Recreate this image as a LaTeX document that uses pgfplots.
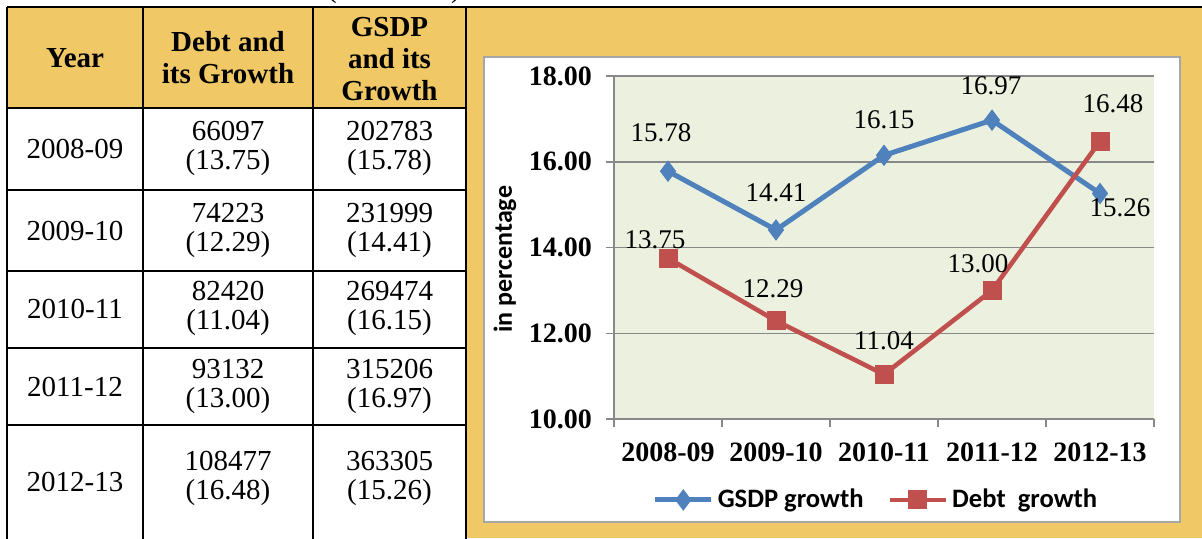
\documentclass[border=0pt]{standalone}
\usepackage{fontspec}
\setmainfont{Liberation Serif}
\newfontfamily\calibri{Carlito}
\usepackage{pgfplots}
\usepackage{pgfplotstable}
\pgfplotsset{compat=1.18}
\definecolor{gold}{HTML}{F0C966}
\definecolor{cGSDP}{HTML}{4F81BD}
\definecolor{cDebt}{HTML}{C0504D}
\definecolor{plotbg}{HTML}{EBF1DE}
\definecolor{gridgray}{HTML}{888888}

% growth rates (per cent) with label offsets in pt
\pgfplotstableread{
idx gsdp gdx gdy debt ddx ddy
0 15.78 -3.5 19 13.75 -6.5 9
1 14.41 0 18.5 12.29 -1.5 16
2 16.15 0 18 11.04 0 17
3 16.97 -0.5 17 13.00 -7 13.5
4 15.26 10 -7 16.48 6.5 18.5
}\growth

\begin{document}
\begin{tikzpicture}[x=1pt,y=1pt]
\useasboundingbox (0,0) rectangle (601,269);
% background panels
\fill[gold] (233,0) rectangle (601,265.5);
\fill[gold] (3.5,215) rectangle (233,265.5);
\fill[white] (242,8) rectangle (590,240.5);
\draw[gray!70, line width=1pt] (242,8) rectangle (590,240.5);
% cut-off caption brackets above the table
\node[anchor=base, inner sep=0pt, font=\fontsize{14.5}{16}\selectfont] at (166,270.5) {(};
\node[anchor=base, inner sep=0pt, font=\fontsize{14.5}{16}\selectfont] at (228,270.5) {)};
% table grid
\begin{scope}[line width=1.25pt]
\draw (3.5,265.5) -- (601,265.5);
\foreach \yy in {215,174,133.5,95,56.5} \draw (3.5,\yy) -- (233,\yy);
\foreach \xx in {3.5,71.5,156.5,233} \draw (\xx,-2) -- (\xx,265.5);
\end{scope}
% table text
\begin{scope}[every node/.style={align=center, inner sep=0pt, font=\fontsize{14.5}{16}\selectfont}]
\node[font=\fontsize{14.5}{16}\selectfont\bfseries] at (37.5,240) {Year};
\node[font=\fontsize{14.5}{16}\selectfont\bfseries] at (114,240) {Debt and\\its Growth};
\node[font=\fontsize{14.5}{16}\selectfont\bfseries] at (194.75,239.5) {GSDP\\and its\\Growth};
\node at (37.5,194.5) {2008-09};
\node at (37.5,153.75) {2009-10};
\node at (37.5,114.5) {2010-11};
\node at (37.5,75.5) {2011-12};
\node at (37.5,28) {2012-13};
\node[font=\fontsize{14.5}{14.5}\selectfont] at (114,194.75) {66097\\(13.75)};
\node[font=\fontsize{14.5}{14.5}\selectfont] at (114,154) {74223\\(12.29)};
\node[font=\fontsize{14.5}{14.5}\selectfont] at (114,115) {82420\\(11.04)};
\node[font=\fontsize{14.5}{14.5}\selectfont] at (114,76) {93132\\(13.00)};
\node[font=\fontsize{14.5}{14.5}\selectfont] at (114,30) {108477\\(16.48)};
\node[font=\fontsize{14.5}{14.5}\selectfont] at (194.75,194.75) {202783\\(15.78)};
\node[font=\fontsize{14.5}{14.5}\selectfont] at (194.75,154) {231999\\(14.41)};
\node[font=\fontsize{14.5}{14.5}\selectfont] at (194.75,115) {269474\\(16.15)};
\node[font=\fontsize{14.5}{14.5}\selectfont] at (194.75,76) {315206\\(16.97)};
\node[font=\fontsize{14.5}{14.5}\selectfont] at (194.75,30) {363305\\(15.26)};
\end{scope}
% chart
\begin{axis}[
  at={(307pt,59.5pt)}, anchor=south west,
  scale only axis, width=270pt, height=171.5pt,
  xmin=-0.5, xmax=4.5, ymin=10, ymax=18,
  axis x line*=bottom, axis y line*=left,
  axis line style={draw=gridgray, line width=0.75pt, -},
  axis background/.style={fill=plotbg},
  xtick={-0.5,0.5,...,4.5}, xticklabels={},
  extra x ticks={0,1,2,3,4},
  extra x tick labels={2008-09,2009-10,2010-11,2011-12,2012-13},
  extra x tick style={major tick length=0pt, grid=none},
  ytick={10,12,...,18},
  ymajorgrids, grid style={gridgray, line width=0.75pt},
  tick align=outside, major tick length=4pt,
  tick style={gridgray, line width=0.75pt},
  /pgf/number format/assume math mode=true,
  yticklabel style={/pgf/number format/fixed, /pgf/number format/fixed zerofill,
    /pgf/number format/precision=2, font=\fontsize{14}{14}\selectfont\bfseries, xshift=-3.5pt},
  xticklabel style={font=\fontsize{14}{14}\selectfont\bfseries, anchor=center, yshift=-16.5pt},
  ylabel={in percentage},
  ylabel style={at={(axis description cs:-0.202,0.466)}, anchor=center, font=\calibri\bfseries\fontsize{13}{13}\selectfont},
  legend columns=2,
  legend style={at={(axis description cs:0.487,-0.236)}, anchor=center, draw=none, fill=none,
    font=\calibri\bfseries\fontsize{13.3}{14}\selectfont,
    /tikz/every even column/.append style={column sep=10pt}},
  legend image code/.code={\draw[mark repeat=2, mark phase=2] plot coordinates {(0pt,0pt) (14pt,0pt) (28pt,0pt)};},
  clip=false,
]
\addplot[cGSDP, line width=2.5pt, mark=diamond*, mark size=5pt, mark options={fill=cGSDP, line width=0.5pt},
  point meta=explicit,
  visualization depends on={\thisrow{gdx}\as\dx},
  visualization depends on={\thisrow{gdy}\as\dy},
  nodes near coords={\pgfmathprintnumber[fixed,fixed zerofill,precision=2]{\pgfplotspointmeta}},
  nodes near coords style={font=\fontsize{13.5}{14}\selectfont, text=black, anchor=center,
    xshift=\dx pt, yshift=\dy pt}]
  table[x=idx, y=gsdp, meta=gsdp] {\growth};
\addlegendentry{GSDP growth}
\addplot[cDebt, line width=2.3pt, mark=square*, mark size=4.5pt, mark options={fill=cDebt, line width=0.5pt},
  point meta=explicit,
  visualization depends on={\thisrow{ddx}\as\dx},
  visualization depends on={\thisrow{ddy}\as\dy},
  nodes near coords={\pgfmathprintnumber[fixed,fixed zerofill,precision=2]{\pgfplotspointmeta}},
  nodes near coords style={font=\fontsize{13.5}{14}\selectfont, text=black, anchor=center,
    xshift=\dx pt, yshift=\dy pt}]
  table[x=idx, y=debt, meta=debt] {\growth};
\addlegendentry{Debt\ \ growth}
\end{axis}
\end{tikzpicture}
\end{document}
